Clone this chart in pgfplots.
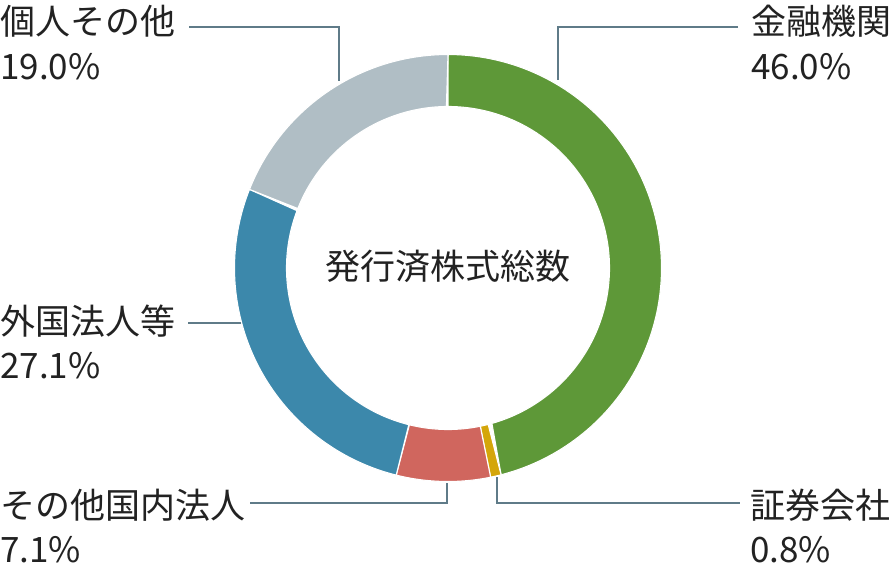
\documentclass[border=0pt]{standalone}
\usepackage{pgfplots}
\pgfplotsset{compat=1.18}
\usepackage{fontspec}
\setmainfont{Noto Sans CJK JP}

\definecolor{cFin}{HTML}{5E9838}
\definecolor{cSec}{HTML}{D4A60A}
\definecolor{cDom}{HTML}{D0665E}
\definecolor{cFor}{HTML}{3C88AB}
\definecolor{cInd}{HTML}{B0BEC5}
\definecolor{leader}{HTML}{5F7B88}
\definecolor{txt}{HTML}{222222}

% centre and radii of the ring, in picture pixels (y counted from the bottom)
\def\cx{448}\def\cy{300}\def\Ro{213.5}\def\Ri{161.5}
\def\start{90}
% one slice: share in percent, colour; slices run clockwise from the top
\newcommand\slice[2]{%
  \pgfmathsetmacro\angA{\start}%
  \pgfmathsetmacro\angB{\start-3.6*#1}%
  \edef\doslice{\noexpand\addplot[fill=#2, draw=white, line width=1.1pt,
      domain=0:2, samples=241, variable=\noexpand\t]
    ({\cx+(\noexpand\t<=1 ? \Ro : \Ri)*cos(\angA+(\angB-\angA)*(\noexpand\t<=1 ? \noexpand\t : 2-\noexpand\t))},
     {\cy+(\noexpand\t<=1 ? \Ro : \Ri)*sin(\angA+(\angB-\angA)*(\noexpand\t<=1 ? \noexpand\t : 2-\noexpand\t))})
    -- cycle;}%
  \doslice
  \global\let\start\angB
}

\begin{document}
\begin{tikzpicture}[font=\fontsize{35}{42}\selectfont, text=txt,
  lead/.style={draw=leader, line width=1.8pt}]
\useasboundingbox (0,0) rectangle (893pt,568pt);
\begin{axis}[
    at={(0,0)}, anchor=south west,
    scale only axis, width=893pt, height=568pt,
    xmin=0, xmax=893, ymin=0, ymax=568,
    hide axis, clip=false,
]
% leader lines
\draw[lead] (axis cs:189,541) -- (axis cs:339,541) -- (axis cs:339,487);
\draw[lead] (axis cs:738,541) -- (axis cs:558,541) -- (axis cs:558,488);
\draw[lead] (axis cs:188,245) -- (axis cs:241,245);
\draw[lead] (axis cs:250,65) -- (axis cs:447,65) -- (axis cs:447,85);
\draw[lead] (axis cs:497,91) -- (axis cs:497,65) -- (axis cs:740,65);

\slice{46.0}{cFin}  % 金融機関
\slice{0.8}{cSec}   % 証券会社
\slice{7.1}{cDom}   % その他国内法人
\slice{27.1}{cFor}  % 外国法人等
\slice{19.0}{cInd}  % 個人その他

% labels
\node[anchor=base west, inner sep=0] at (axis cs:0,533.5) {個人その他};
\node[anchor=base west, inner sep=0] at (axis cs:0,488) {19.0\%};
\node[anchor=base west, inner sep=0] at (axis cs:751,533.5) {金融機関};
\node[anchor=base west, inner sep=0] at (axis cs:751,488) {46.0\%};
\node[anchor=base west, inner sep=0] at (axis cs:0,233.5) {外国法人等};
\node[anchor=base west, inner sep=0] at (axis cs:0,190) {27.1\%};
\node[anchor=base west, inner sep=0] at (axis cs:0,49.5) {その他国内法人};
\node[anchor=base west, inner sep=0] at (axis cs:0,6) {7.1\%};
\node[anchor=base west, inner sep=0] at (axis cs:750,49.5) {証券会社};
\node[anchor=base west, inner sep=0] at (axis cs:750,6) {0.8\%};
\node[anchor=base, inner sep=0] at (axis cs:448,288.5) {発行済株式総数};
\end{axis}
\end{tikzpicture}
\end{document}
